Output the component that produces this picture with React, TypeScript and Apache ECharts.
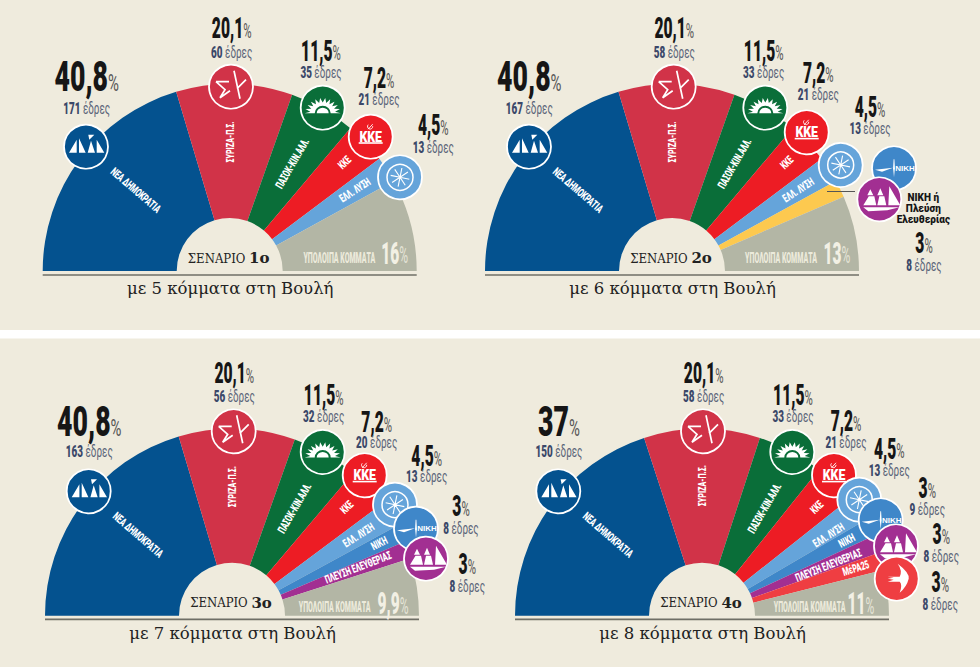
import React, { useEffect, useRef } from "react";
import * as echarts from "echarts";

const names1 = ["ΝΕΑ ΔΗΜΟΚΡΑΤΙΑ", "ΣΥΡΙΖΑ-Π.Σ.", "ΠΑΣΟΚ-ΚΙΝ.ΑΛΛ.", "ΚΚΕ", "ΕΛΛ. ΛΥΣΗ", "ΥΠΟΛΟΙΠΑ ΚΟΜΜΑΤΑ"];
const shares1 = [40.8, 20.1, 11.5, 7.2, 4.5, 16];
const pcts1 = ["40,8", "20,1", "11,5", "7,2", "4,5"];
const seats1 = [171, 60, 35, 21, 13];
const rest1 = "16";

const names2 = ["ΝΕΑ ΔΗΜΟΚΡΑΤΙΑ", "ΣΥΡΙΖΑ-Π.Σ.", "ΠΑΣΟΚ-ΚΙΝ.ΑΛΛ.", "ΚΚΕ", "ΕΛΛ. ΛΥΣΗ", "ΝΙΚΗ ή Πλεύση Ελευθερίας", "ΥΠΟΛΟΙΠΑ ΚΟΜΜΑΤΑ"];
const shares2 = [40.8, 20.1, 11.5, 7.2, 4.5, 3, 13];
const pcts2 = ["40,8", "20,1", "11,5", "7,2", "4,5", "3"];
const seats2 = [167, 58, 33, 21, 13, 8];
const rest2 = "13";

const names3 = ["ΝΕΑ ΔΗΜΟΚΡΑΤΙΑ", "ΣΥΡΙΖΑ-Π.Σ.", "ΠΑΣΟΚ-ΚΙΝ.ΑΛΛ.", "ΚΚΕ", "ΕΛΛ. ΛΥΣΗ", "ΝΙΚΗ", "ΠΛΕΥΣΗ ΕΛΕΥΘΕΡΙΑΣ", "ΥΠΟΛΟΙΠΑ ΚΟΜΜΑΤΑ"];
const shares3 = [40.8, 20.1, 11.5, 7.2, 4.5, 3, 3, 9.9];
const pcts3 = ["40,8", "20,1", "11,5", "7,2", "4,5", "3", "3"];
const seats3 = [163, 56, 32, 20, 13, 8, 8];
const rest3 = "9,9";

const names4 = ["ΝΕΑ ΔΗΜΟΚΡΑΤΙΑ", "ΣΥΡΙΖΑ-Π.Σ.", "ΠΑΣΟΚ-ΚΙΝ.ΑΛΛ.", "ΚΚΕ", "ΕΛΛ. ΛΥΣΗ", "ΝΙΚΗ", "ΠΛΕΥΣΗ ΕΛΕΥΘΕΡΙΑΣ", "ΜέΡΑ25", "ΥΠΟΛΟΙΠΑ ΚΟΜΜΑΤΑ"];
// the wedges as drawn in the picture: not quite what the printed labels say
const shares4 = [40.1, 20.1, 11.5, 7.2, 4.5, 3, 3, 3, 7.9];
const pcts4 = ["37", "20,1", "11,5", "7,2", "4,5", "3", "3", "3"];
const seats4 = [150, 58, 33, 21, 13, 9, 8, 8];
const rest4 = "11";

const captions = ["με 5 κόμματα στη Βουλή", "με 6 κόμματα στη Βουλή", "με 7 κόμματα στη Βουλή", "με 8 κόμματα στη Βουλή"];
const scenarioNumbers = ["1ο", "2ο", "3ο", "4ο"];

const colorOf: Record<string, string> = {
  "ΝΕΑ ΔΗΜΟΚΡΑΤΙΑ": "#04528f",
  "ΣΥΡΙΖΑ-Π.Σ.": "#d13348",
  "ΠΑΣΟΚ-ΚΙΝ.ΑΛΛ.": "#0a6e39",
  "ΚΚΕ": "#ed1c24",
  "ΕΛΛ. ΛΥΣΗ": "#65a4da",
  "ΝΙΚΗ": "#3f87c9",
  "ΝΙΚΗ ή Πλεύση Ελευθερίας": "#fdc94f",
  "ΠΛΕΥΣΗ ΕΛΕΥΘΕΡΙΑΣ": "#a22f92",
  "ΜέΡΑ25": "#ef3e42",
  "ΥΠΟΛΟΙΠΑ ΚΟΜΜΑΤΑ": "#b3b6a5",
};

const BG = "#efebdd";
const HEAVY = "Roboto, 'Liberation Sans', sans-serif";
const SERIF = "'DejaVu Serif', serif";
const R_IN = 53;
const R_OUT = 187;

type Panel = {
  names: string[]; shares: number[]; pcts: string[]; seats: number[]; rest: string;
  cx: number; cy: number; line: number; capY: number;
  logos: [string, number, number][];
  labels: [number, number, number, number][];
  wedge: ([number, number] | null)[];
  restText: [number, number]; restNum: [number, number];
};

const big = 43, mid = 29;

const panels: Panel[] = [
  {
    names: names1, shares: shares1, pcts: pcts1, seats: seats1, rest: rest1,
    cx: 229.7, cy: 271, line: 275, capY: 288.5,
    logos: [["nd", 86, 146.7], ["syriza", 231, 86.7], ["pasok", 322.7, 107.7], ["kke", 370.7, 136.7], ["ellisi", 400, 177.3]],
    labels: [[86.7, 77, 107.7, big], [231.7, 28.5, 51.7, mid], [321, 50.7, 71.7, mid], [379, 78, 99.3, mid], [433.3, 125, 146.7, mid]],
    wedge: [[124, 139.2], [129, 90], [124.5, 60], [158, 43.5], [149, 33]],
    restText: [109.7, -12.7], restNum: [165, -17.7],
  },
  {
    names: names2, shares: shares2, pcts: pcts2, seats: seats2, rest: rest2,
    cx: 672, cy: 271, line: 275, capY: 288.5,
    logos: [["nd", 529, 146.7], ["syriza", 673.7, 86.7], ["pasok", 765.3, 107.7], ["kke", 806.7, 132.3], ["ellisi", 840.7, 165], ["niki", 894, 168.3], ["plefsi", 879.3, 199.3]],
    labels: [[529.3, 77, 107.7, big], [674.3, 28.5, 51.7, mid], [763.7, 50.7, 71.7, mid], [818.3, 72.7, 94, mid], [870, 107.3, 127.7, mid], [924, 243.3, 265, mid]],
    wedge: [[124, 139.2], [129, 90], [124.5, 60], [158, 43.5], [150, 32.8], null],
    restText: [109, -12.7], restNum: [165, -17.7],
  },
  {
    names: names3, shares: shares3, pcts: pcts3, seats: seats3, rest: rest3,
    cx: 232, cy: 615.7, line: 619.4, capY: 633,
    logos: [["nd", 88.7, 491.3], ["syriza", 233.7, 431.3], ["pasok", 322.7, 452], ["kke", 364.7, 475.3], ["ellisi", 395, 504.7], ["niki", 416, 528.7], ["plefsi", 426, 558.7]],
    labels: [[89.3, 422, 451.3, big], [234.3, 373, 396.3, mid], [323.7, 395.3, 415.7, mid], [376.7, 422, 442.3, mid], [426.7, 456, 476.3, mid], [461, 506, 527.7, mid], [467.3, 564.3, 586.3, mid]],
    wedge: [[124, 139.2], [129, 90], [124.5, 60], [158, 43.5], [150, 32.6], [164, 26.3], [135, 21.1]],
    restText: [102.7, -7.7], restNum: [161, -12],
  },
  {
    names: names4, shares: shares4, pcts: pcts4, seats: seats4, rest: rest4,
    cx: 702, cy: 615.7, line: 619.4, capY: 633,
    logos: [["nd", 558.3, 491.3], ["syriza", 703, 431.3], ["pasok", 792.3, 452], ["kke", 834, 475.3], ["ellisi", 859.3, 499.7], ["niki", 880.7, 520.3], ["plefsi", 896, 546.3], ["mera", 896.7, 578.7]],
    labels: [[559, 422, 451.3, big], [703.7, 373, 396.3, mid], [793, 395.3, 415.7, mid], [846, 421, 442.3, mid], [889.3, 448.7, 470.3, mid], [927.3, 488, 509.3, mid], [941.3, 534.3, 555.7, mid], [940.3, 582, 603.7, mid]],
    wedge: [[124, 139.2], [130, 90], [124.5, 60], [158, 43.5], [150, 32.6], [163, 27.5], [136, 21.9], [161, 17.3]],
    restText: [107.7, -7.7], restNum: [159, -12],
  },
];

/* logo glyphs, drawn round (0,0) on a circle of radius 22 */
function spikes(): string {
  const pts: string[] = [];
  const n = 11;
  for (let i = 0; i <= 2 * n; i++) {
    const a = Math.PI - (i * Math.PI) / (2 * n);
    const r = i % 2 === 0 ? 18 : 12.5;
    pts.push(`${(r * Math.cos(a)).toFixed(2)} ${(5.5 - r * Math.sin(a) * 0.85).toFixed(2)}`);
  }
  return (
    "M" + pts.join(" L") + " Z " +
    "M-8 5.5 L8 5.5 A8 7.5 0 0 0 -8 5.5 Z " +
    "M-6 5.5 A6 5.5 0 0 1 6 5.5 Z"
  );
}

function star(): string {
  let d = "";
  for (let i = 0; i < 8; i++) {
    const a = (i * Math.PI) / 4 + 0.2;
    d += `M0 0 L${(9.5 * Math.cos(a)).toFixed(2)} ${(9.5 * Math.sin(a)).toFixed(2)} `;
  }
  return d;
}

const glyphs: Record<string, string> = {
  gNd: "M-17 6 L-9.3 -7 L-9.3 6 Z M-7 -8.5 L-0.3 6 L-7 6 Z M1.7 6 L5 -6 L9 6 Z M2.3 -12 L8.3 -12 L3.3 -7 Z M10.7 -7 L18.3 6 L10.7 6 Z",
  gSyriza: "M-15 -5 L-2 -5 M-15 -5 L-6 3 L-11 11 L-1 4 M3 -16 L9 12 M15 -7 L6 2",
  gPasok: spikes(),
  gSickle: "M-2.5 -2 A2.6 2.6 0 1 0 2 -0.5 M-2.5 2.5 L2 -2.5",
  gStar: star(),
  gTurbine: "M-1 1 L-0.4 -9 L0.4 -9 L1 1 Z M-1 -0.5 L-19 1.5 L-12 3.5 Z M-0.8 1 L0 9 L0.8 1 Z",
  gPlefsi: "M-9 -10 L-6 -4 L-12 -4 Z M-10.5 -3 L-5 -3 L-3 6 L-16 6 Z M1 -11 L4 -4 L-2 -4 Z M0 -3 L5 -3 L7 6 L-2 6 Z M10 -13 L21 6 L9 6 Z M-16 8 L20 8 L8 11 L-11 12 Z",
  gMera: "M1 -15 Q13 -6 12 0 Q10 8 3 14 Q6 6 3 3 L-9 3 L-3 1 L-9 0 L-3 -1 L-9 -2 L3 -2 Q6 -8 1 -15 Z",
};
Object.keys(glyphs).forEach((k) => {
  (echarts.graphic as any).registerShape(k, (echarts.graphic as any).extendPath(glyphs[k], {}));
});

const Z = 10;
const measureCtx = document.createElement("canvas").getContext("2d") as CanvasRenderingContext2D;
function widthOf(text: string, fontSize: number, weight: number) {
  measureCtx.font = `${weight} ${fontSize}px ${HEAVY}`;
  return measureCtx.measureText(text).width;
}

function plain(x: number, y: number, text: string, style: any, align = "center") {
  return {
    type: "text", x, y, z: Z, silent: true,
    style: { text, align, verticalAlign: "middle", textAlign: align, textVerticalAlign: "middle", ...style },
  };
}

/* a text in a group, so that the squeeze and the turn apply to it as a whole */
function txt(x: number, y: number, text: string, style: any, extra: any = {}) {
  return { type: "group", x, y, silent: true, ...extra, children: [plain(0, 0, text, style)] };
}

/* two squeezed texts on one baseline */
function pair(x: number, y: number, a: string, fa: number, ca: string, b: string, fb: number, cb: string, scaleX: number, weightB = 400) {
  const wa = widthOf(a, fa, 900);
  const wb = widthOf(b, fb, weightB);
  const left = -(wa + wb) / 2;
  return {
    type: "group", x, y, silent: true, scaleX,
    children: [
      plain(left, 0, a, { fontFamily: HEAVY, fontWeight: 900, fontSize: fa, fill: ca }, "left"),
      plain(left + wa, 0.28 * (fa - fb), b, { fontFamily: HEAVY, fontWeight: weightB, fontSize: fb, fill: cb }, "left"),
    ],
  };
}

function logo(kind: string, x: number, y: number): any[] {
  const disc = (fill: string) => ({ type: "circle", z: Z, silent: true, shape: { cx: x, cy: y, r: 22 }, style: { fill, stroke: "#fff", lineWidth: 1.8 } });
  const g = (name: string, style: any, dy = 0) => ({ type: name, x, y: y + dy, z: Z, silent: true, style });
  const white = { fill: "#fff" };
  switch (kind) {
    case "nd":
      return [disc(colorOf["ΝΕΑ ΔΗΜΟΚΡΑΤΙΑ"]), g("gNd", white)];
    case "syriza":
      return [disc(colorOf["ΣΥΡΙΖΑ-Π.Σ."]), g("gSyriza", { fill: "none", stroke: "#fff", lineWidth: 1.7 })];
    case "pasok":
      return [disc(colorOf["ΠΑΣΟΚ-ΚΙΝ.ΑΛΛ."]), g("gPasok", white)];
    case "kke":
      return [
        disc(colorOf["ΚΚΕ"]),
        g("gSickle", { fill: "none", stroke: "#fff", lineWidth: 0.9 }, -10),
        txt(x, y, "ΚΚΕ", { fontFamily: HEAVY, fontWeight: 900, fontSize: 14.5, fill: "#fff" }, { scaleX: 0.85 }),
        { type: "rect", z: Z, silent: true, shape: { x: x - 12, y: y + 5.5, width: 24, height: 1.6 }, style: { fill: "#fff" } },
      ];
    case "ellisi":
      return [
        disc(colorOf["ΕΛΛ. ΛΥΣΗ"]),
        { type: "circle", z: Z, silent: true, shape: { cx: x, cy: y, r: 13 }, style: { fill: "none", stroke: "#fff", lineWidth: 1.5 } },
        g("gStar", { fill: "none", stroke: "#fff", lineWidth: 1.1 }),
      ];
    case "niki":
      return [
        disc(colorOf["ΝΙΚΗ"]),
        g("gTurbine", white),
        txt(x + 11, y, "ΝΙΚΗ", { fontFamily: "'Liberation Sans', sans-serif", fontWeight: "bold", fontSize: 8, fill: "#fff" }),
      ];
    case "plefsi":
      return [disc(colorOf["ΠΛΕΥΣΗ ΕΛΕΥΘΕΡΙΑΣ"]), g("gPlefsi", white)];
    default:
      return [disc(colorOf["ΜέΡΑ25"]), g("gMera", white)];
  }
}

function panelGraphics(p: Panel, i: number): any[] {
  const out: any[] = [];
  // baseline rule
  out.push({ type: "rect", z: 1, silent: true, shape: { x: p.cx - R_OUT, y: p.line - 0.8, width: 2 * R_OUT, height: 1.6 }, style: { fill: "#6f6f66" } });
  // caption
  out.push(txt(p.cx + 0.5, p.capY, captions[i], { fontFamily: SERIF, fontSize: 16.5, fill: "#222" }));
  // scenario
  out.push(
    plain(p.cx - 1, p.cy - 13, `{a|ΣΕΝΑΡΙΟ }{b|${scenarioNumbers[i]}}`, {
      rich: {
        a: { fontFamily: "'DejaVu Serif Condensed', " + SERIF, fontSize: 13, fill: "#222" },
        b: { fontFamily: SERIF, fontWeight: "bold", fontSize: 15, fill: "#222" },
      },
    })
  );
  // labels inside the wedges
  p.wedge.forEach((w, k) => {
    if (!w) return;
    const a = (w[1] * Math.PI) / 180;
    const rot = w[1] > 95 ? w[1] - 180 : w[1];
    out.push(
      txt(p.cx + w[0] * Math.cos(a), p.cy - w[0] * Math.sin(a), p.names[k], { fontFamily: HEAVY, fontWeight: 900, fontSize: 11.5, fill: "#fff" }, {
        rotation: (rot * Math.PI) / 180,
        scaleX: 0.62,
      })
    );
  });
  // remainder wedge
  out.push(
    txt(p.cx + p.restText[0], p.cy + p.restText[1], p.names[p.names.length - 1], { fontFamily: HEAVY, fontWeight: 900, fontSize: 14, fill: "#eceadb" }, { scaleX: 0.5 })
  );
  out.push(pair(p.cx + p.restNum[0], p.cy + p.restNum[1], p.rest, 31, "#f2f0e4", "%", 24, "#e6e5d8", 0.5));
  // logos
  p.logos.forEach(([kind, x, y]) => logo(kind, x, y).forEach((e) => e && out.push(e)));
  // percentages and seats
  p.labels.forEach((l, k) => {
    const isBig = l[3] > 35;
    out.push(pair(l[0], l[1], p.pcts[k], l[3], "#161616", "%", isBig ? 24 : 21, "#555555", isBig ? 0.62 : 0.54));
    out.push(pair(l[0], l[2], String(p.seats[k]), 16.5, "#3b4869", " έδρες", 16.5, "#5b6579", 0.6));
  });
  return out;
}

const extras: any[] = [
  { type: "rect", z: 0, silent: true, shape: { x: 0, y: 330, width: 980, height: 8.5 }, style: { fill: "#ffffff" } },
  { type: "line", z: 9, silent: true, shape: { x1: 827, y1: 191.5, x2: 855, y2: 191.5 }, style: { stroke: "#555", lineWidth: 1 } },
  txt(923.3, 197.5, "ΝΙΚΗ ή", { fontFamily: HEAVY, fontWeight: 900, fontSize: 10.5, fill: "#161616" }, { scaleX: 0.95 }),
  txt(923.3, 208.5, "Πλεύση", { fontFamily: HEAVY, fontWeight: 900, fontSize: 10.5, fill: "#161616" }, { scaleX: 0.95 }),
  txt(923.3, 219.5, "Ελευθερίας", { fontFamily: HEAVY, fontWeight: 900, fontSize: 10.5, fill: "#161616" }, { scaleX: 0.95 }),
];

export default function App() {
  const ref = useRef<HTMLDivElement>(null);
  useEffect(() => {
    if (!ref.current) return;
    document.body.style.margin = "0";
    const chart = echarts.init(ref.current, undefined, { renderer: "svg" });
    chart.setOption({
      animation: false,
      backgroundColor: BG,
      series: panels.map((p) => ({
        type: "pie",
        silent: true,
        center: [p.cx, p.cy],
        radius: [R_IN, R_OUT],
        startAngle: 180,
        endAngle: 0,
        clockwise: true,
        avoidLabelOverlap: false,
        label: { show: false },
        labelLine: { show: false },
        data: p.shares.map((v, i) => ({ name: p.names[i], value: v, itemStyle: { color: colorOf[p.names[i]] } })),
      })),
      graphic: { elements: [...extras, ...panels.flatMap((p, i) => panelGraphics(p, i))] },
    });
    return () => chart.dispose();
  }, []);
  return <div ref={ref} style={{ width: 980, height: 667 }} />;
}
